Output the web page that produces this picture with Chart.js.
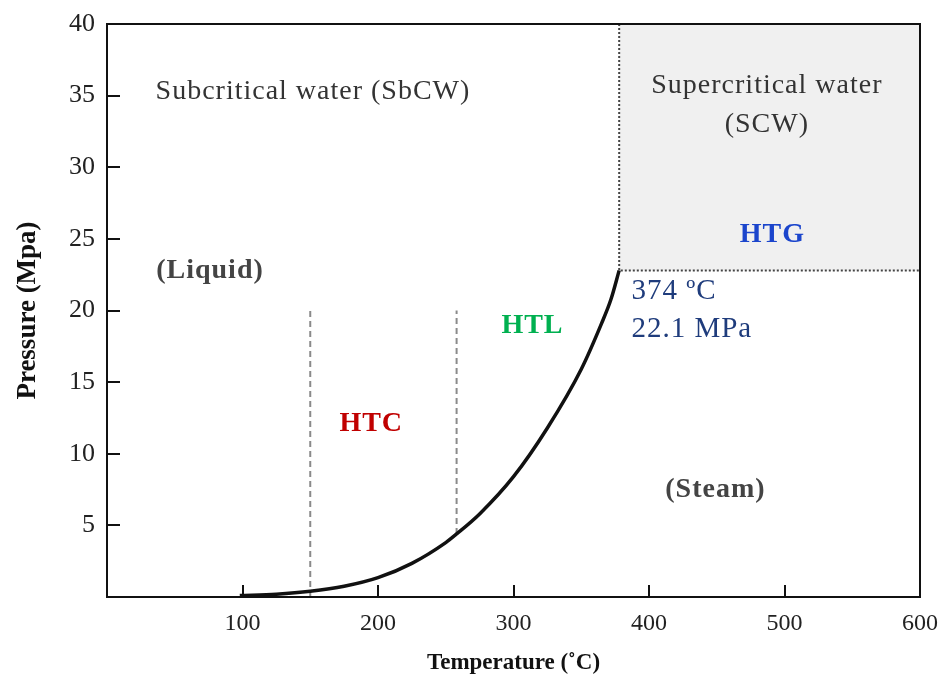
<!DOCTYPE html>
<html>
<head>
<meta charset="utf-8">
<script src="https://cdn.jsdelivr.net/npm/chart.js@4.4.1/dist/chart.umd.min.js"></script>
<style>
  html, body { margin: 0; padding: 0; background: #fff; }
  #wrap { width: 939px; height: 682px; }
</style>
</head>
<body>
<div id="wrap"><canvas id="myChart" width="939" height="682"></canvas></div>
<script>
// saturation curve of water (temperature in C, pressure in MPa)
var curveT = [98, 125, 150, 175, 200, 225, 250, 258, 275, 300, 325, 350, 365, 372, 378];
var curveP = [0.1, 0.2, 0.4, 0.75, 1.35, 2.35, 3.8, 4.4, 5.8, 8.4, 11.8, 15.9, 19.1, 20.8, 22.8];

// critical point corner of the supercritical region
var critT = 378;
var critP = 22.8;

// process boundaries (dashed lines)
var htcStartT = 150;
var htlStartT = 258;
var boundaryTopP = 20;
var htlBottomP = 4.4;

// axis ranges and ticks
var xMin = 0, xMax = 600, xStep = 100;
var yMin = 0, yMax = 40, yStep = 5;

var serif = "'Liberation Serif', 'Times New Roman', serif";

// text labels placed in data coordinates
var notes = [
  { text: 'Subcritical water (SbCW)', x: 152, y: 35.3, color: '#333', bold: false, size: 28, align: 'center' },
  { text: 'Supercritical water', x: 487, y: 35.7, color: '#333', bold: false, size: 28, align: 'center' },
  { text: '(SCW)', x: 487, y: 33.0, color: '#333', bold: false, size: 28, align: 'center' },
  { text: 'HTG', x: 491, y: 25.3, color: '#1b45cc', bold: true, size: 28, align: 'center' },
  { text: '(Liquid)', x: 76, y: 22.8, color: '#444', bold: true, size: 28, align: 'center' },
  { text: '374 ºC', x: 387, y: 21.3, color: '#1f3c7c', bold: false, size: 29, align: 'left' },
  { text: '22.1 MPa', x: 387, y: 18.7, color: '#1f3c7c', bold: false, size: 29, align: 'left' },
  { text: 'HTL', x: 314, y: 18.9, color: '#00b050', bold: true, size: 28, align: 'center' },
  { text: 'HTC', x: 195, y: 12.1, color: '#c00000', bold: true, size: 28, align: 'center' },
  { text: '(Steam)', x: 449, y: 7.5, color: '#444', bold: true, size: 28, align: 'center' }
];

var curveData = curveT.map(function (t, i) { return { x: t, y: curveP[i] }; });

// frame + inward tick marks
var framePlugin = {
  id: 'frame',
  afterDraw: function (chart) {
    var ctx = chart.ctx;
    var a = chart.chartArea;
    var xs = chart.scales.x, ys = chart.scales.y;
    ctx.save();
    ctx.strokeStyle = '#111';
    ctx.lineWidth = 2;
    ctx.strokeRect(a.left, a.top, a.right - a.left, a.bottom - a.top);
    ctx.beginPath();
    xs.ticks.forEach(function (t) {
      if (t.value <= xMin || t.value >= xMax) return;
      var px = Math.round(xs.getPixelForValue(t.value));
      ctx.moveTo(px, a.bottom);
      ctx.lineTo(px, a.bottom - 12);
    });
    ys.ticks.forEach(function (t) {
      if (t.value <= yMin || t.value >= yMax) return;
      var py = Math.round(ys.getPixelForValue(t.value));
      ctx.moveTo(a.left, py);
      ctx.lineTo(a.left + 13, py);
    });
    ctx.stroke();
    ctx.restore();
  }
};

var notesPlugin = {
  id: 'notes',
  afterDatasetsDraw: function (chart) {
    var ctx = chart.ctx;
    var xs = chart.scales.x, ys = chart.scales.y;
    ctx.save();
    ctx.textBaseline = 'middle';
    ctx.letterSpacing = '1px';
    notes.forEach(function (n) {
      ctx.font = (n.bold ? 'bold ' : '') + n.size + 'px ' + serif;
      ctx.fillStyle = n.color;
      ctx.textAlign = n.align;
      ctx.fillText(n.text, xs.getPixelForValue(n.x), ys.getPixelForValue(n.y));
    });
    ctx.restore();
  }
};

var ctx = document.getElementById('myChart');

new Chart(ctx, {
  type: 'scatter',
  data: {
    datasets: [
      {
        label: 'saturation curve',
        data: curveData,
        showLine: true,
        borderColor: '#111',
        borderWidth: 3.5,
        pointRadius: 0,
        cubicInterpolationMode: 'monotone'
      },
      {
        label: 'HTC boundary',
        data: [{ x: htcStartT, y: yMin }, { x: htcStartT, y: boundaryTopP }],
        showLine: true,
        borderColor: '#8a8a8a',
        borderWidth: 2,
        borderDash: [6, 4],
        pointRadius: 0
      },
      {
        label: 'HTL boundary',
        data: [{ x: htlStartT, y: htlBottomP }, { x: htlStartT, y: boundaryTopP }],
        showLine: true,
        borderColor: '#8a8a8a',
        borderWidth: 2,
        borderDash: [6, 4],
        pointRadius: 0
      },
      {
        label: 'SCW region',
        data: [{ x: critT, y: yMax }, { x: critT, y: critP }, { x: xMax, y: critP }],
        showLine: true,
        fill: 'end',
        backgroundColor: '#f0f0f0',
        borderColor: '#444',
        borderWidth: 2,
        borderDash: [2, 2],
        pointRadius: 0
      }
    ]
  },
  options: {
    responsive: false,
    animation: false,
    layout: { padding: { top: 24, right: 19, left: 0, bottom: 0 } },
    plugins: {
      legend: { display: false },
      tooltip: { enabled: false }
    },
    scales: {
      x: {
        type: 'linear',
        min: xMin,
        max: xMax,
        grid: { display: false, drawTicks: false },
        border: { display: false },
        ticks: {
          stepSize: xStep,
          padding: 12,
          color: '#222',
          font: { family: serif, size: 24 },
          maxRotation: 0,
          callback: function (v) { return v === 0 ? '' : v; }
        },
        title: {
          display: true,
          text: 'Temperature (˚C)',
          color: '#111',
          font: { family: serif, size: 23, weight: 'bold' },
          padding: { top: 0, bottom: 5 }
        },
        afterFit: function (s) {
          s.height = 85;
          s.paddingLeft = 0;
          s.paddingRight = 0;
        }
      },
      y: {
        type: 'linear',
        min: yMin,
        max: yMax,
        grid: { display: false, drawTicks: false },
        border: { display: false },
        ticks: {
          stepSize: yStep,
          padding: 12,
          color: '#222',
          font: { family: serif, size: 26 },
          callback: function (v) { return v === 0 ? '' : v; }
        },
        title: {
          display: true,
          text: 'Pressure (Mpa)',
          color: '#111',
          font: { family: serif, size: 27, weight: 'bold' },
          padding: { top: 12, bottom: 0 }
        },
        afterFit: function (s) {
          s.width = 107;
          s.paddingTop = 0;
          s.paddingBottom = 0;
        }
      }
    }
  },
  plugins: [framePlugin, notesPlugin]
});
</script>
</body>
</html>
